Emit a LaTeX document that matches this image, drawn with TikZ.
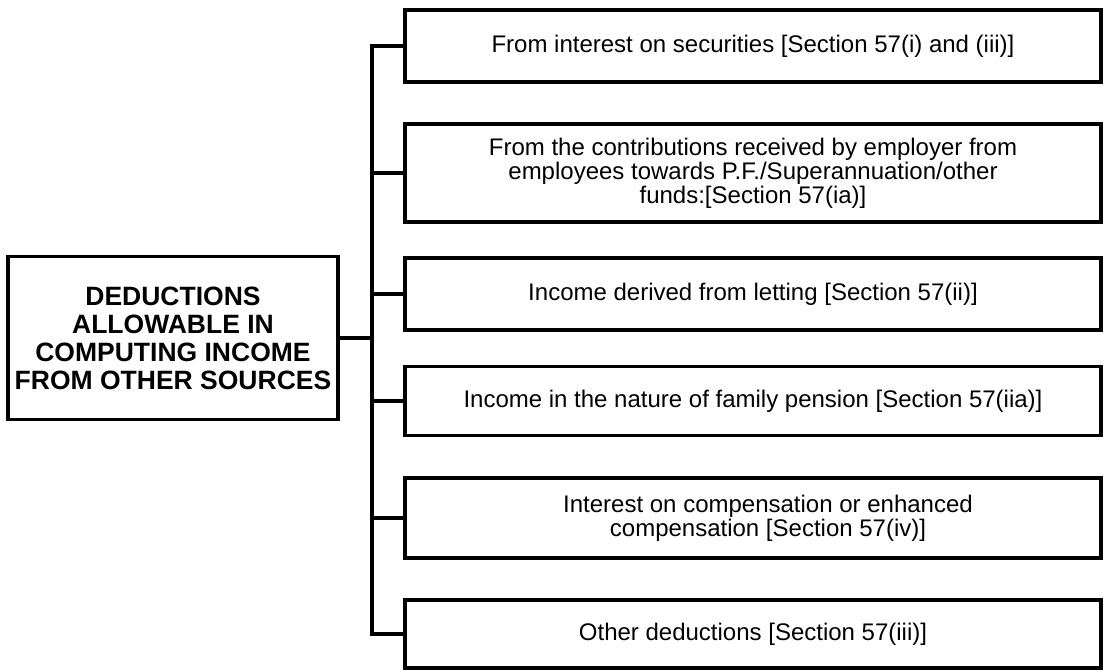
\documentclass[tikz,border=0pt]{standalone}
\usepackage{fontspec}
\setmainfont{Liberation Sans}
\usetikzlibrary{positioning, calc}

\begin{document}
\begin{tikzpicture}[
    x=1pt, y=-1pt,
    rootbox/.style={draw, line width=3.5pt, minimum width=330pt, minimum height=163pt, font=\fontsize{26.5}{28}\selectfont\bfseries, align=center, inner sep=0pt},
    itembox/.style={draw, line width=3.5pt, minimum width=696pt, font=\fontsize{24}{24}\selectfont, align=center, inner sep=0pt},
    link/.style={line width=3.5pt},
]
\useasboundingbox (0,0) rectangle (1107,671);

\node[rootbox] (root) at (173,338) {DEDUCTIONS\\ALLOWABLE IN\\COMPUTING INCOME\\FROM OTHER SOURCES};

\node[itembox, minimum height=72pt] (b1) at (753,46) {From interest on securities [Section 57(i) and (iii)]};
\node[itembox, minimum height=98pt] (b2) at (753,173) {From the contributions received by employer from\\employees towards P.F./Superannuation/other\\funds:[Section 57(ia)]};
\node[itembox, minimum height=72pt] (b3) at (753,294) {Income derived from letting [Section 57(ii)]};
\node[itembox, minimum height=69pt] (b4) at (753,401) {Income in the nature of family pension [Section 57(iia)]};
\node[itembox, minimum height=80pt] (b5) at (753,518) {\hspace*{30pt}Interest on compensation or enhanced\\\hspace*{30pt}compensation [Section 57(iv)]};
\node[itembox, minimum height=68pt] (b6) at (753,634) {Other deductions [Section 57(iii)]};

% trunk
\coordinate (ttop) at (372,0);
\draw[link, line cap=rect] (ttop |- b1.west) -- (ttop |- b6.west);
\draw[link] (root.east) -- (ttop |- root.east);
\foreach \b in {b1,b2,b3,b4,b5,b6}
  \draw[link] (ttop |- \b.west) -- (\b.west);
\end{tikzpicture}
\end{document}
